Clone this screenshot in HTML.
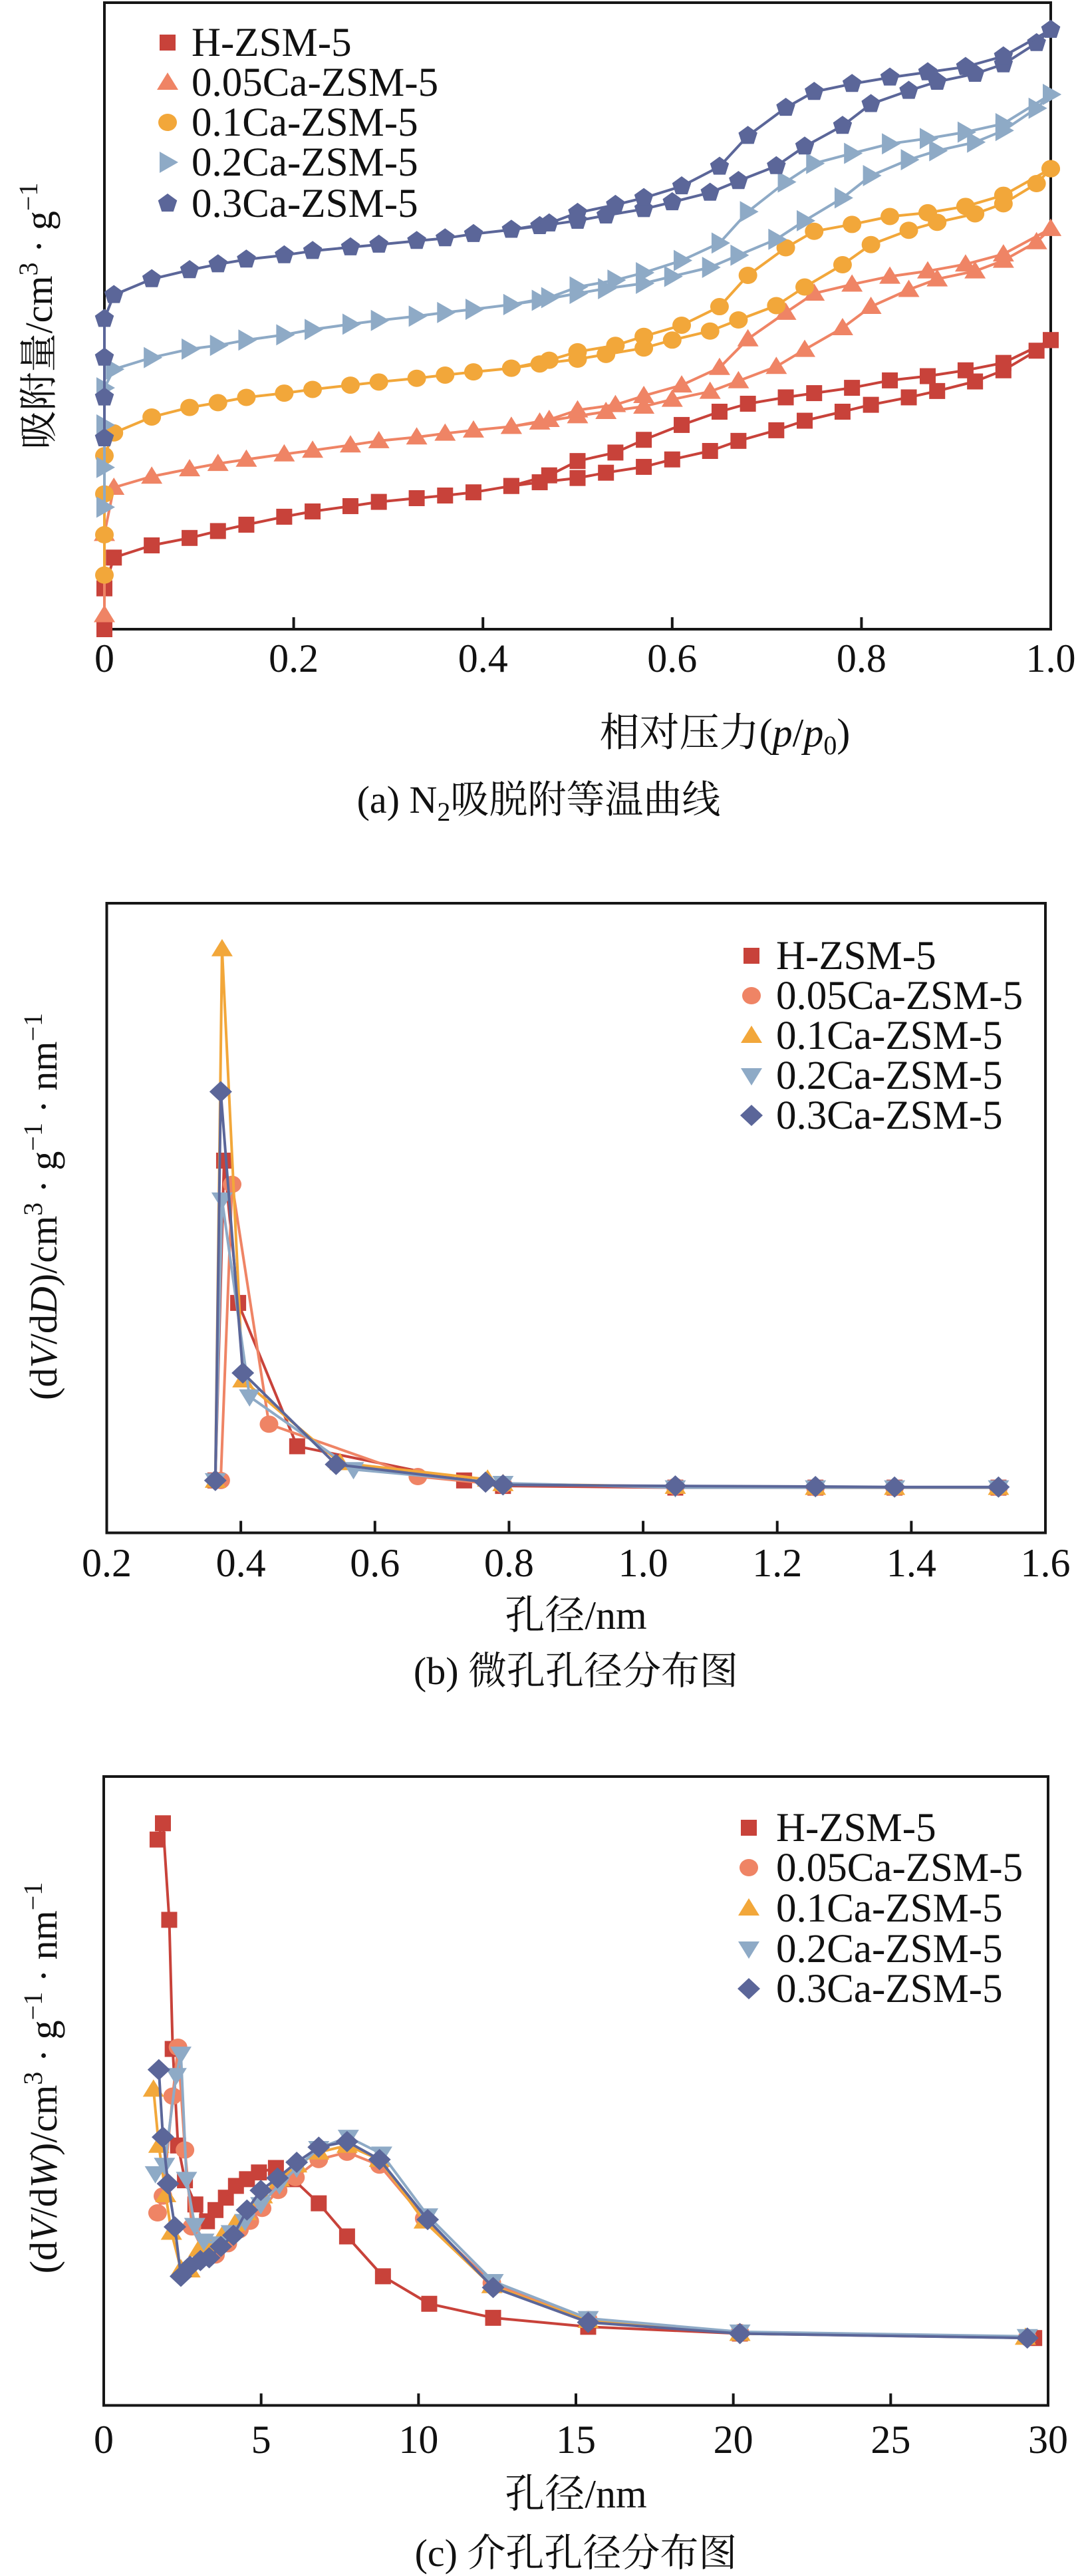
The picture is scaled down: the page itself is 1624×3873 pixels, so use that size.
<!DOCTYPE html>
<html><head><meta charset="utf-8">
<style>
html,body{margin:0;padding:0;background:#fff;}
svg{display:block;}
text{font-family:"Liberation Serif","Noto Serif CJK SC",serif;fill:#111;}
</style></head>
<body>
<svg id="root" width="1624" height="3873" viewBox="0 0 1624 3873" xmlns="http://www.w3.org/2000/svg">
<rect width="1624" height="3873" fill="#fff"/>
<g id="chartA"></g>
<g id="chartB"></g>
<g id="chartC"></g>
</svg>
<script>
// ===== Chart (a) data: relative pressure p/p0 and adsorbed amount (arbitrary units) =====
const aP_H = [0,0,0.01,0.05,0.09,0.12,0.15,0.19,0.22,0.26,0.29,0.33,0.36,0.39,0.43,0.46,0.5,0.53,0.57,0.6,0.64,0.67,0.71,0.74,0.78,0.81,0.85,0.88,0.92,0.95,0.985,1.0];
const aP_Ca = [0,0,0,0,0.01,0.05,0.09,0.12,0.15,0.19,0.22,0.26,0.29,0.33,0.36,0.39,0.43,0.46,0.5,0.53,0.57,0.6,0.64,0.67,0.71,0.74,0.78,0.81,0.85,0.88,0.92,0.95,0.985,1.0];
const aP_des = [0.95,0.91,0.87,0.83,0.79,0.75,0.72,0.68,0.65,0.61,0.57,0.54,0.5,0.47];
const aAds_H = [0,77,135,158,172,185,197,212,222,232,240,247,252,258,270,277,285,295,306,320,336,355,375,393,410,423,437,449,467,488,525,545];
const aDes_H = [502,488,477,469,455,445,437,425,410,385,357,333,317,290];
const aAds_005 = [27,180,267,288,302,312,320,330,337,347,355,362,369,375,382,390,402,410,420,433,448,468,495,527,568,608,640,660,675,695,730,755];
const aDes_005 = [707,688,675,665,650,633,597,547,493,460,440,423,413,395];
const aAds_01 = [102,178,255,327,370,400,418,427,437,445,452,460,466,473,479,485,492,500,509,518,530,545,562,583,610,645,687,725,752,767,783,802,840,868];
const aDes_01 = [818,797,785,778,763,750,719,667,608,573,552,535,523,507];
const aAds_02 = [230,305,385,455,490,512,528,535,545,555,565,575,582,590,597,603,612,620,633,642,652,665,682,705,735,770,813,855,885,902,918,940,982,1008];
const aDes_02 = [953,937,925,915,897,878,843,787,728,695,672,658,645,625];
const aAds_03 = [360,437,512,585,630,660,677,688,697,705,713,720,725,732,737,745,753,760,770,780,792,805,823,845,873,910,949,990,1015,1032,1047,1065,1105,1130];
const aDes_03 = [1080,1060,1050,1040,1028,1013,983,930,872,835,813,800,785,765];
const aTicks = [0,0.2,0.4,0.6,0.8,1.0];
const aTickLabels = ["0","0.2","0.4","0.6","0.8","1.0"];

// ===== Chart (b) data: pore diameter D (nm) and dV/dD (arbitrary units) =====
const bD_H = [0.362,0.375,0.396,0.484,0.733,0.791,1.048,1.257,1.375,1.530];
const bV_H = [95,675,417,157,95,85,82,82,82,82];
const bD_005 = [0.370,0.387,0.442,0.664,0.791,1.048,1.257,1.375,1.530];
const bV_005 = [95,632,197,102,87,84,82,82,82];
const bD_01 = [0.362,0.372,0.403,0.548,0.768,0.791,1.048,1.257,1.375,1.530];
const bV_01 = [95,1059,277,127,97,89,84,82,82,82];
const bD_02 = [0.362,0.372,0.413,0.568,0.791,1.048,1.257,1.375,1.530];
const bV_02 = [95,604,247,115,90,82,82,82,82];
const bD_03 = [0.362,0.370,0.403,0.542,0.765,0.791,1.048,1.257,1.375,1.530];
const bV_03 = [95,800,290,124,92,87,85,84,83,83];
const bTicks = [0.2,0.4,0.6,0.8,1.0,1.2,1.4,1.6];
const bTickLabels = ["0.2","0.4","0.6","0.8","1.0","1.2","1.4","1.6"];

// ===== Chart (c) data: pore width W (nm) and dV/dW (arbitrary units) =====
const cW_H = [1.71,1.88,2.08,2.19,2.36,2.58,2.91,3.28,3.55,3.88,4.20,4.55,4.93,5.47,6.02,6.83,7.73,8.87,10.34,12.37,15.39,20.21,29.56];
const cV_H = [1008,1037,865,635,463,401,358,328,348,370,391,403,415,423,403,360,301,230,181,156,140,128,120];
const cW_005 = [1.71,1.88,2.19,2.36,2.58,2.80,3.24,3.55,3.94,4.31,4.64,5.03,5.54,6.09,6.83,7.73,8.76,10.18,12.33,15.39,20.21,29.34];
const cV_005 = [343,373,551,638,455,318,265,268,288,313,328,351,383,406,438,451,428,333,218,153,130,121];
const cW_01 = [1.58,1.75,1.97,2.15,2.45,2.74,3.02,3.39,3.77,4.16,4.53,5.04,5.58,6.13,6.83,7.73,8.76,10.18,12.33,15.39,20.21,29.28];
const cV_01 = [563,463,375,308,243,241,278,288,303,323,343,373,403,428,451,463,438,328,213,151,128,121];
const cW_02 = [1.64,1.93,2.30,2.45,2.63,2.89,3.18,3.68,4.05,4.49,4.99,5.58,6.13,6.83,7.77,8.83,10.29,12.37,15.39,20.21,29.34];
const cV_02 = [413,428,588,626,403,321,293,288,308,328,358,393,423,458,478,448,338,221,155,131,123];
const cW_03 = [1.75,1.88,2.04,2.26,2.45,2.74,3.07,3.35,3.72,4.12,4.55,4.99,5.52,6.13,6.83,7.73,8.76,10.29,12.37,15.39,20.21,29.34];
const cV_03 = [598,478,395,318,230,248,258,263,283,303,348,383,405,433,460,470,438,331,210,148,128,120];
const cTicks = [0,5,10,15,20,25,30];
const cTickLabels = ["0","5","10","15","20","25","30"];

const seriesNames = ["H-ZSM-5","0.05Ca-ZSM-5","0.1Ca-ZSM-5","0.2Ca-ZSM-5","0.3Ca-ZSM-5"];
const COL = ["#c8423a","#ef8465","#f2a73a","#8eaac6","#5b6699"];
const NS = "http://www.w3.org/2000/svg";

function mk(tag, parent, attrs){
  const e = document.createElementNS(NS, tag);
  for (const k in attrs) e.setAttribute(k, attrs[k]);
  parent.appendChild(e);
  return e;
}
function marker(parent, shape, x, y, color, name){
  let e;
  if (shape==="square") e = mk("rect", parent, {x:x-12,y:y-12,width:24,height:24,fill:color});
  else if (shape==="circle") e = mk("ellipse", parent, {cx:x,cy:y,rx:14,ry:13,fill:color});
  else if (shape==="tri") e = mk("polygon", parent, {points:`${x},${y-15} ${x+16},${y+11} ${x-16},${y+11}`,fill:color});
  else if (shape==="tridown") e = mk("polygon", parent, {points:`${x-16},${y-11} ${x+16},${y-11} ${x},${y+15}`,fill:color});
  else if (shape==="triright") e = mk("polygon", parent, {points:`${x-12},${y-16} ${x+16},${y} ${x-12},${y+16}`,fill:color});
  else if (shape==="diamond") e = mk("polygon", parent, {points:`${x},${y-16} ${x+17},${y} ${x},${y+16} ${x-17},${y}`,fill:color});
  else if (shape==="pent"){
    const pts=[]; for(let i=0;i<5;i++){const a=-Math.PI/2+i*2*Math.PI/5; pts.push((x+15*Math.cos(a)).toFixed(1)+","+(y+15*Math.sin(a)).toFixed(1));}
    e = mk("polygon", parent, {points:pts.join(" "),fill:color});
  }
  
  
  return e;
}
function drawSeries(g, xs, ys, xf, yf, color, shape, name){
  const sg = mk("g", g, {});
  
  
  const pts = xs.map((v,i)=>xf(v).toFixed(1)+","+yf(ys[i]).toFixed(1)).join(" ");
  const pl = mk("polyline", sg, {points:pts, fill:"none", stroke:color, "stroke-width":4, "stroke-linejoin":"round"});
  
  
  xs.forEach((v,i)=>marker(sg, shape, xf(v), yf(ys[i]), color, name+'-point'));
}
function frame(g, L, R, T, B, ticks, labels, xf, labY, name){
  const r = mk("rect", g, {x:L,y:T,width:R-L,height:B-T,fill:"none",stroke:"#161616","stroke-width":4});
  
  
  ticks.forEach((t,i)=>{
    const x = xf(t);
    if (i>0 && i<ticks.length-1){
      const tk = mk("line", g, {x1:x,y1:B,x2:x,y2:B-18,stroke:"#161616","stroke-width":4});
      
      
    }
    const tl = mk("text", g, {x:x,y:labY,"text-anchor":"middle","font-size":60});
    tl.textContent = labels[i];
    
    
  });
}
function legend(g, mx, tx, rows, shapes){
  const lg = mk("g", g, {});
  
  
  rows.forEach((y,i)=>{
    const en = mk("g", lg, {});
    
    
    marker(en, shapes[i], mx, y, COL[i], 'legend-marker');
    const t = mk("text", en, {x:tx,y:y+20,"font-size":61});
    t.textContent = seriesNames[i];
    
    
  });
}
function textAt(g, x, y, size, html, name, rot){
  const t = mk("text", g, {x:x,y:y,"text-anchor":"middle","font-size":size});
  if (rot) t.setAttribute("transform", `rotate(-90 ${x} ${y})`);
  t.innerHTML = html;
  
  
  return t;
}

// ----- Chart A -----
(function(){
  const g = document.getElementById("chartA");
  const L=157,R=1580,T=4,B=946;
  const xf = p => L + p*(R-L);
  const yf = v => B - v*0.7976;
  frame(g,L,R,T,B,aTicks,aTickLabels,xf,1010,'isotherm');
  const shapes=["square","tri","circle","triright","pent"];
  const ads=[aAds_H,aAds_005,aAds_01,aAds_02,aAds_03];
  const des=[aDes_H,aDes_005,aDes_01,aDes_02,aDes_03];
  const pA=[aP_H,aP_H,aP_Ca,aP_Ca,aP_Ca];
  for(let s=0;s<5;s++){
    drawSeries(g,pA[s],ads[s],xf,yf,COL[s],shapes[s],'adsorption-'+s);
    const n=pA[s].length;
    const dx=[pA[s][n-1]].concat(aP_des,[0.43]);
    const dy=[ads[s][n-1]].concat(des[s],[ads[s][pA[s].indexOf(0.43)]]);
    drawSeries(g,dx,dy,xf,yf,COL[s],shapes[s],'desorption-'+s);
  }
  legend(g,252,288,[64,124,184,244,306],shapes);
  textAt(g,1090,1122,60,'相对压力(<tspan font-style="italic">p</tspan>/<tspan font-style="italic">p</tspan><tspan font-size="40" dy="12">0</tspan><tspan dy="-12">)</tspan>','x-axis-title');
  textAt(g,810,1222,58,'(a) N<tspan font-size="40" dy="12">2</tspan><tspan dy="-12">吸脱附等温曲线</tspan>','caption-a');
  textAt(g,78,475,58,'吸附量/cm<tspan font-size="40" dy="-22">3</tspan><tspan dy="22"> · g</tspan><tspan font-size="40" dy="-22">−1</tspan>','y-axis-title',true);
})();

// ----- Chart B -----
(function(){
  const g = document.getElementById("chartB");
  const L=160.5,R=1572,T=1358,B=2304.6;
  const xf = d => L + (d-0.2)/1.4*(R-L);
  const yf = v => B - v*0.829;
  frame(g,L,R,T,B,bTicks,bTickLabels,xf,2370,'micropore');
  const shapes=["square","circle","tri","tridown","diamond"];
  const X=[bD_H,bD_005,bD_01,bD_02,bD_03], Y=[bV_H,bV_005,bV_01,bV_02,bV_03];
  for(let s=0;s<5;s++) drawSeries(g,X[s],Y[s],xf,yf,COL[s],shapes[s],'series-'+s);
  legend(g,1130,1167,[1437,1497,1557,1617,1677],shapes);
  textAt(g,866,2449,60,'孔径/nm','x-axis-title');
  textAt(g,866,2532,58,'(b) 微孔孔径分布图','caption-b');
  textAt(g,85,1814,58,'(d<tspan font-style="italic">V</tspan>/d<tspan font-style="italic">D</tspan>)/cm<tspan font-size="40" dy="-22">3</tspan><tspan dy="22"> · g</tspan><tspan font-size="40" dy="-22">−1</tspan><tspan dy="22"> · nm</tspan><tspan font-size="40" dy="-22">−1</tspan>','y-axis-title',true);
})();

// ----- Chart C -----
(function(){
  const g = document.getElementById("chartC");
  const L=156,R=1576,T=2671,B=3616.5;
  const xf = w => L + w/30*(R-L);
  const yf = v => B - v*0.844;
  frame(g,L,R,T,B,cTicks,cTickLabels,xf,3688,'mesopore');
  const shapes=["square","circle","tri","tridown","diamond"];
  const X=[cW_H,cW_005,cW_01,cW_02,cW_03], Y=[cV_H,cV_005,cV_01,cV_02,cV_03];
  for(let s=0;s<5;s++) drawSeries(g,X[s],Y[s],xf,yf,COL[s],shapes[s],'series-'+s);
  legend(g,1126,1167,[2748,2808,2869,2930,2990],shapes);
  textAt(g,866,3770,60,'孔径/nm','x-axis-title');
  textAt(g,866,3858,58,'(c) 介孔孔径分布图','caption-c');
  textAt(g,85,3124,58,'(d<tspan font-style="italic">V</tspan>/d<tspan font-style="italic">W</tspan>)/cm<tspan font-size="40" dy="-22">3</tspan><tspan dy="22"> · g</tspan><tspan font-size="40" dy="-22">−1</tspan><tspan dy="22"> · nm</tspan><tspan font-size="40" dy="-22">−1</tspan>','y-axis-title',true);
})();
</script>
</body></html>
